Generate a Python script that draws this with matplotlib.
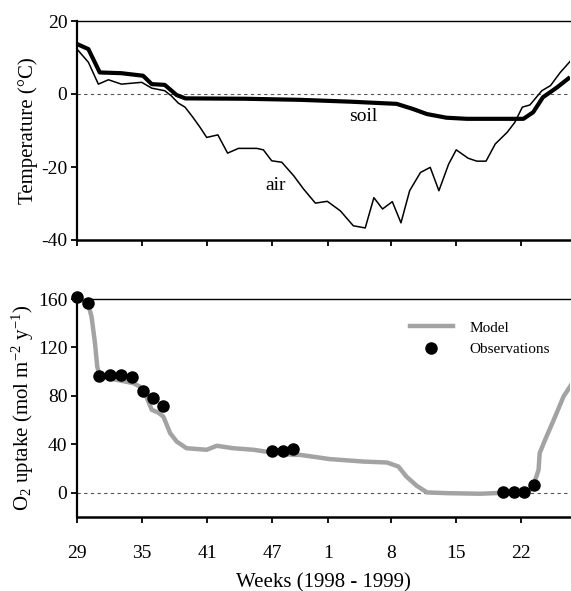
import matplotlib
matplotlib.use("Agg")
import matplotlib.pyplot as plt
from matplotlib.lines import Line2D

plt.rcParams['font.family'] = ['Liberation Serif', 'DejaVu Serif']
plt.rcParams['mathtext.fontset'] = 'custom'
plt.rcParams['mathtext.rm'] = 'Liberation Serif'
plt.rcParams['mathtext.it'] = 'Liberation Serif:italic'
plt.rcParams['axes.unicode_minus'] = False

# x positions are in plot week-units (tick "29" = 0)
tick_pos = [0, 6, 12, 18, 23.2, 29, 35, 41]
tick_labels = ['29', '35', '41', '47', '1', '8', '15', '22']

air_x = [0, 1.05, 1.97, 2.9, 4.1, 5.97, 6.9, 8.1, 8.7, 9.35, 9.97, 10.7, 11.35, 11.97,
         13.0, 13.9, 14.9, 16.6, 17.2, 17.97, 18.9, 20.0, 20.9, 22.0, 23.1, 24.3, 25.5,
         26.6, 27.4, 28.2, 29.1, 29.9, 30.7, 31.7, 32.6, 33.4, 34.3, 35.0, 36.1, 36.9,
         37.75, 38.6, 39.7, 40.4, 41.1, 41.8, 42.9, 43.7, 44.6, 45.5]
air_y = [12.3, 8.7, 2.7, 3.9, 2.7, 3.2, 1.6, 0.9, -0.5, -2.5, -3.6, -6.4, -9.1, -11.9,
         -11.2, -16.2, -14.9, -14.9, -15.3, -18.3, -18.7, -22.4, -26.0, -29.9, -29.4, -32.0,
         -36.1, -36.7, -28.4, -31.5, -29.5, -35.3, -26.5, -21.5, -20.1, -26.5, -19.2, -15.3,
         -17.6, -18.4, -18.4, -13.7, -10.5, -7.8, -3.6, -3.0, 0.9, 2.3, 5.9, 8.9]

soil_x = [0, 1.05, 2.1, 4.1, 6.1, 6.9, 8.1, 9.2, 10.0, 15.5, 20.6, 25.2, 29.5, 31.0,
          32.3, 34.1, 36.0, 41.2, 42.1, 43.0, 44.3, 45.5]
soil_y = [13.7, 12.3, 5.9, 5.7, 5.0, 2.7, 2.5, -0.3, -1.2, -1.3, -1.6, -2.1, -2.7, -4.1,
          -5.5, -6.5, -6.8, -6.8, -5.0, -0.9, 1.8, 4.6]

model_x = [0, 1.0, 1.35, 1.66, 1.87, 2.1, 3.35, 5.2, 5.8, 6.4, 6.9, 7.5, 7.97, 8.6, 9.2,
           10.1, 11.97, 12.9, 14.4, 16.3, 18.0, 19.97, 20.6, 23.35, 26.4, 28.6, 29.66,
           30.4, 31.35, 32.3, 34.1, 37.2, 40.3, 41.7, 42.1, 42.6, 42.7, 43.2, 44.0, 44.9, 45.6]
model_y = [161, 157, 145, 123.5, 104, 96.5, 93.8, 90.5, 87.7, 79.4, 68.5, 66.2, 62.9,
           49.2, 42.3, 36.8, 35.5, 38.8, 36.8, 35.5, 33.2, 31.3, 31.3, 27.8, 25.8, 25.0,
           21.7, 13.4, 5.8, 0.3, -0.3, -0.8, 0.3, 1.1, 5.2, 19, 32.7, 43.7, 60.2, 79.4, 89]

obs_x = [0, 1.05, 2.03, 3.05, 4.1, 5.05, 6.06, 6.99, 7.97, 18.0, 18.98, 19.97,
         39.35, 40.3, 41.3, 42.2]
obs_y = [161.4, 156.4, 96.5, 97.6, 97.6, 95.9, 84.4, 78.4, 71.8, 34.6, 34.9, 36.3,
         0.6, 0.6, 0.6, 6.6]

W, H = 571, 591
fig = plt.figure(figsize=(W / 100, H / 100), dpi=100)
ax1 = fig.add_axes([77 / W, 1 - 240 / H, 493 / W, 219 / H])
ax2 = fig.add_axes([77 / W, 1 - 517 / H, 493 / W, 218 / H])

for ax in (ax1, ax2):
    ax.set_xlim(0, 45.5)
    ax.spines['right'].set_visible(False)
    ax.spines['top'].set_linewidth(1.0)
    ax.spines['left'].set_linewidth(1.6)
    ax.spines['bottom'].set_linewidth(1.8)
    ax.set_xticks(tick_pos)
    ax.tick_params(axis='both', direction='out', length=4, width=1.3, labelsize=14, pad=3)
    ax.axhline(0, color='#555555', lw=0.8, ls=(0, (3, 3)), zorder=1)

# top panel
ax1.set_ylim(-40, 20)
ax1.set_yticks([-40, -20, 0, 20])
ax1.set_xticklabels([])
ax1.plot(air_x, air_y, color='black', lw=1.1, zorder=3)
ax1.plot(soil_x, soil_y, color='black', lw=3.0, zorder=4, solid_capstyle='butt')
ax1.text(26.4, -6.3, 'soil', fontsize=14, ha='center', va='center')
ax1.text(18.3, -25.2, 'air', fontsize=14, ha='center', va='center')
ax1.set_ylabel('Temperature (°C)', fontsize=15, labelpad=2)

# bottom panel
ax2.set_ylim(-20, 160)
ax2.set_yticks([0, 40, 80, 120, 160])
ax2.set_xticklabels(tick_labels)
ax2.tick_params(axis='x', pad=16)
ax2.plot(model_x, model_y, color='#a3a3a3', lw=3.2, zorder=3, label='Model')
ax2.plot(obs_x, obs_y, 'o', color='black', ms=8, zorder=5, clip_on=False, label='Observations')
ax2.set_ylabel('O$_2$ uptake (mol m$^{-2}$ y$^{-1}$)', fontsize=15, labelpad=1)
ax2.set_xlabel('Weeks (1998 - 1999)', fontsize=15, labelpad=8)

handles = [Line2D([], [], color='#a3a3a3', lw=3.2),
           Line2D([], [], marker='o', color='black', ls='none', ms=8)]
ax2.legend(handles, ['Model', 'Observations'], loc='upper left',
           bbox_to_anchor=(410 / W, 1 - 321 / H), bbox_transform=fig.transFigure,
           frameon=False, fontsize=11, handlelength=2.8, handletextpad=1.1,
           labelspacing=0.5, borderpad=0, borderaxespad=0)

fig.savefig('out.png', dpi=100)
